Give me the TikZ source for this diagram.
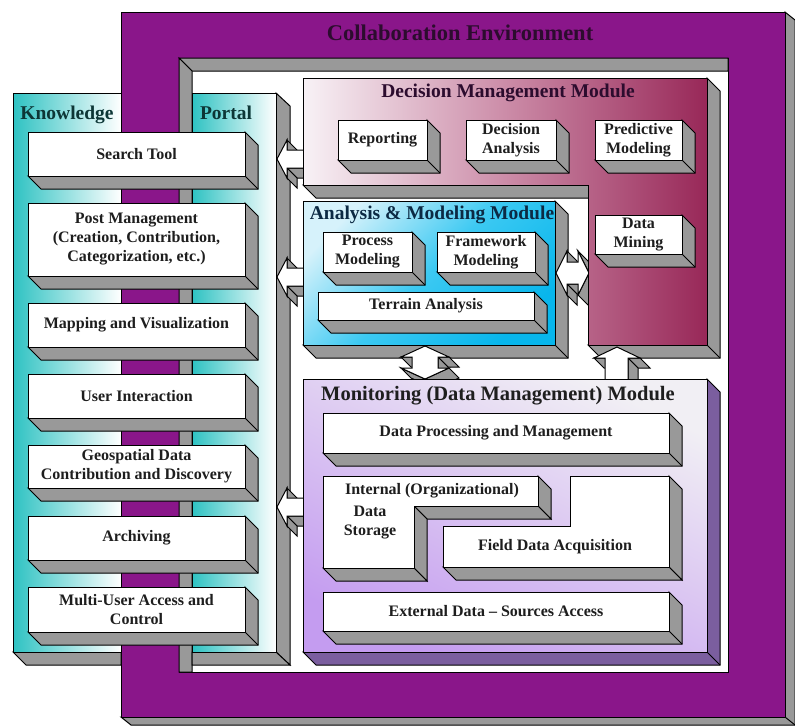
\documentclass[tikz,border=0pt]{standalone}
\usepackage{fontspec}
\setmainfont{Liberation Serif}
\definecolor{gr}{HTML}{999999}
\definecolor{txt}{HTML}{1E1E1E}
\definecolor{teal3}{HTML}{2EC2C2}
\definecolor{purpB}{HTML}{8A168A}
\definecolor{dmA}{HTML}{F8F2F6}
\definecolor{dmB}{HTML}{CC8CA8}
\definecolor{dmC}{HTML}{982858}
\definecolor{amA}{HTML}{D6F2FB}
\definecolor{amB}{HTML}{3CC9F2}
\definecolor{amC}{HTML}{08B6EC}
\definecolor{moA}{HTML}{F1EFF4}
\definecolor{moB}{HTML}{C49CF0}
\definecolor{moD}{HTML}{7B5E9F}
\definecolor{ttlP}{HTML}{2C0C2E}
\definecolor{ttlT}{HTML}{0D3636}
\definecolor{ttlB}{HTML}{0C2A44}
\newcommand\boxd{13}
\newcommand\arrd{10}
\newcommand\boxthree[6]{%
  \draw[face] (#4,#3) -- (#4+\boxd,#3+\boxd) -- (#4+\boxd,#5+\boxd) -- (#2+\boxd,#5+\boxd) -- (#2,#5) -- (#4,#5) -- cycle;
  \draw[edge] (#4,#5) -- (#4+\boxd,#5+\boxd);
  \draw[front] (#2,#3) rectangle (#4,#5);
  \node[itemtext] (#1) at ({(#2+#4)/2},{(#3+#5)/2}) {#6};}
\newcommand\arrface[4]{\draw[face] (#1,#2) -- (#3,#4) -- (#3+\arrd,#4+\arrd) -- (#1+\arrd,#2+\arrd) -- cycle;}
\newcommand\leftblock[1]{%
  \begin{scope}[shift={(#1)}]
    \arrface{10}{-19}{10}{-9}
    \arrface{27}{9}{10}{9}
    \arrface{10}{9}{10}{19}
    \draw[front] (0,0) -- (10,-19) -- (10,-9) -- (27,-9) -- (27,9) -- (10,9) -- (10,19) -- cycle;
  \end{scope}}
\begin{document}
\begin{tikzpicture}[x=1pt,y=-1pt,line join=miter,
  edge/.style={draw=black,line width=1pt},
  face/.style={fill=gr,draw=black,line width=1pt},
  front/.style={fill=white,draw=black,line width=1pt},
  itemtext/.style={font=\fontsize{16}{19}\selectfont\bfseries,text=txt,align=center,inner sep=0pt},
  bigtitle/.style={font=\fontsize{22.5}{27}\selectfont\bfseries,text=ttlP,inner sep=0pt},
  mtitle/.style={font=\fontsize{19.5}{23}\selectfont\bfseries,inner sep=0pt}]

\fill[white] (0,0) rectangle (795,726);
\useasboundingbox (0,0) rectangle (795,726);

% outer collaboration frame
\draw[face] (785,12) -- (795,20) -- (795,725) -- (131,725) -- (121,717) -- (785,717) -- cycle;
\draw[edge] (785,717) -- (795,725);
\draw[edge, fill=purpB] (121,12) rectangle (785,717);
\draw[edge, fill=white] (179,58) rectangle (728,672);
\draw[face] (179,58) -- (728,58) -- (728,71) -- (192,71) -- cycle;
\draw[face] (179,58) -- (192,71) -- (192,672) -- (179,672) -- cycle;
\node[bigtitle] (collab) at (460,33) {Collaboration Environment};

% knowledge portal
\draw[face] (13,652) -- (26,665) -- (121,665) -- (121,652) -- cycle;
\draw[edge, left color=teal3, right color=white] (13,93) rectangle (121,652);
\draw[face] (276,93) -- (290,106) -- (290,665) -- (276,652) -- cycle;
\draw[face] (192,652) -- (192,665) -- (290,665) -- (276,652) -- cycle;
\draw[edge, left color=teal3, right color=white] (192,93) rectangle (276,652);
\node[mtitle, text=ttlT] (know) at (67,115) {Knowledge};
\node[mtitle, text=ttlT] (portal) at (226,113) {Portal};

\boxthree{search}{28}{132}{245}{176}{Search Tool}
\boxthree{post}{28}{203}{245}{276}{Post Management\\(Creation, Contribution,\\Categorization, etc.)}
\boxthree{mapping}{28}{303}{245}{347}{Mapping and Visualization}
\boxthree{user}{28}{374}{245}{418}{User Interaction}
\boxthree{geo}{28}{445}{245}{488}{Geospatial Data\\Contribution and Discovery}
\boxthree{arch}{28}{516}{245}{560}{Archiving}
\boxthree{multi}{28}{587}{245}{632}{Multi-User Access and\\Control}

% arrows into the portal
\coordinate (a1) at (277,159);
\coordinate (a2) at (277,277);
\coordinate (a3) at (277,507);
\leftblock{a1}
\leftblock{a2}
\leftblock{a3}

% analysis & modeling module
\draw[face] (555,201) -- (568,214) -- (568,358) -- (316,358) -- (303,345) -- (555,345) -- cycle;
\draw[edge] (555,345) -- (568,358);
\draw[edge, top color=amA, bottom color=amC, middle color=amB, shading angle=45] (303,201) rectangle (555,345);
\node[mtitle, text=ttlB] (amm) at (432,215) {Analysis \& Modeling Module};
\boxthree{proc}{323}{232}{412}{272}{Process\\Modeling}
\boxthree{frame}{437}{232}{535}{272}{Framework\\Modeling}
\boxthree{terrain}{318}{292}{534}{320}{Terrain Analysis}

% double arrow AMM <-> DMM
\coordinate (h1) at (556,273);
\begin{scope}[shift={(h1)}]
  \arrface{11}{-22}{11}{-11}
  \arrface{22}{11}{11}{11}
  \arrface{11}{11}{11}{22}
  \arrface{22}{-22}{33}{0}
  \arrface{33}{0}{22}{22}
  \draw[front] (0,0) -- (11,-22) -- (11,-11) -- (22,-11) -- (22,-22) -- (33,0) -- (22,22) -- (22,11) -- (11,11) -- (11,22) -- cycle;
\end{scope}

% double arrow AMM <-> MDM
\coordinate (v1) at (425,346);
\begin{scope}[shift={(v1)}]
  \arrface{24}{11}{13}{11}
  \arrface{13}{11}{13}{22}
  \arrface{-13}{11}{-24}{11}
  \arrface{24}{22}{0}{33}
  \arrface{0}{33}{-24}{22}
  \draw[front] (0,0) -- (24,11) -- (13,11) -- (13,22) -- (24,22) -- (0,33) -- (-24,22) -- (-13,22) -- (-13,11) -- (-24,11) -- cycle;
\end{scope}

% decision management module
\draw[face] (707,78) -- (720,91) -- (720,358) -- (601,358) -- (588,345) -- (707,345) -- cycle;
\draw[edge] (707,345) -- (720,358);
\draw[face] (303,185) -- (316,198) -- (601,198) -- (588,185) -- cycle;
\draw[edge, left color=dmA, right color=dmC, middle color=dmB] (303,78) -- (707,78) -- (707,345) -- (588,345) -- (588,185) -- (303,185) -- cycle;
\node[mtitle, text=ttlP] (dmm) at (508,93) {Decision Management Module};
\boxthree{report}{338}{120}{427}{160}{Reporting}
\boxthree{decan}{466}{120}{556}{160}{Decision\\Analysis}
\boxthree{pred}{595}{120}{682}{160}{Predictive\\Modeling}
\boxthree{mining}{595}{215}{682}{254}{Data\\Mining}

% arrow MDM -> DMM
\coordinate (u1) at (617,347);
\begin{scope}[shift={(u1)}]
  \arrface{23}{11}{11}{11}
  \arrface{11}{11}{11}{33}
  \arrface{-12}{11}{-23}{11}
  \draw[front] (0,0) -- (23,11) -- (11,11) -- (11,33) -- (-12,33) -- (-12,11) -- (-23,11) -- cycle;
\end{scope}

% monitoring module
\draw[fill=moD, draw=black, line width=1pt] (707,379) -- (720,392) -- (720,665) -- (316,665) -- (303,652) -- (707,652) -- cycle;
\draw[edge] (707,652) -- (720,665);
\draw[edge, top color=moA, bottom color=moB, shading angle=-25] (303,379) rectangle (707,652);
\node[mtitle, text=txt, font=\fontsize{20.5}{24}\selectfont\bfseries] (mdm) at (498,396) {Monitoring (Data Management) Module};
\boxthree{dpm}{323}{413}{669}{453}{Data Processing and Management}
% internal storage (L shape)
\draw[face] (538,476) -- (551,489) -- (551,519) -- (538,506) -- cycle;
\draw[face] (414,506) -- (538,506) -- (551,519) -- (427,519) -- cycle;
\draw[face] (414,506) -- (427,519) -- (427,581) -- (414,568) -- cycle;
\draw[face] (323,568) -- (336,581) -- (427,581) -- (414,568) -- cycle;
\draw[front] (323,476) -- (538,476) -- (538,506) -- (414,506) -- (414,568) -- (323,568) -- cycle;
\node[itemtext] (internal) at (432,491) {Internal (Organizational)};
\node[itemtext] (storage) at (370,523) {Data\\Storage};
% field data (L shape)
\draw[face] (669,476) -- (682,489) -- (682,580) -- (669,567) -- cycle;
\draw[face] (443,567) -- (456,580) -- (682,580) -- (669,567) -- cycle;
\draw[front] (570,476) -- (669,476) -- (669,567) -- (443,567) -- (443,526) -- (570,526) -- cycle;
\node[itemtext] (field) at (555,547) {Field Data Acquisition};
\boxthree{ext}{323}{592}{669}{631}{External Data – Sources Access}
\end{tikzpicture}
\end{document}
